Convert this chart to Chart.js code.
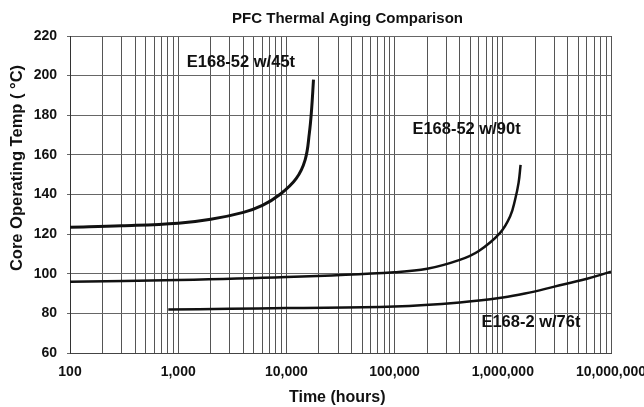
<!DOCTYPE html>
<html>
<head>
<meta charset="utf-8">
<script src="https://cdn.jsdelivr.net/npm/chart.js@4"></script>
<style>
  body { margin: 0; background: #fff; }
  canvas { display: block; }
</style>
</head>
<body>
<canvas id="chart" width="644" height="407"></canvas>
<script>
// 読み取り値: 横軸は時間(対数), 縦軸はコア温度
const hours45 = [100, 300, 1000, 2000, 4000, 6000, 8700, 12300, 14900, 16300, 17100, 17800];
const temp45  = [123.5, 124.2, 125.5, 127.5, 131, 134.5, 140, 148, 157.5, 171, 183, 198];

const hours90 = [100, 1000, 10000, 100000, 200000, 400000, 600000, 940000, 1170000, 1300000, 1400000, 1460000];
const temp90  = [96, 96.8, 98.3, 100.8, 102.5, 107, 111.5, 120.5, 129, 137.5, 146, 155];

const hours76 = [810, 3000, 10000, 100000, 400000, 1000000, 1600000, 3000000, 6000000, 10000000];
const temp76  = [82, 82.3, 82.7, 83.5, 85.5, 88, 90, 93.5, 97.5, 101];

const seriesNames = ['E168-52 w/45t', 'E168-52 w/90t', 'E168-2 w/76t'];
// ラベル位置 (データ座標)
const labelHours = [3800, 462000, 1820000];
const labelTemps = [206.5, 172.6, 75.2];

const decadeTicks = [100, 1000, 10000, 100000, 1000000, 10000000];
const xTickLabels = ['100', '1,000', '10,000', '100,000', '1,000,000', '10,000,000'];
const yTicks = [60, 80, 100, 120, 140, 160, 180, 200, 220];

const chartTitle = 'PFC Thermal Aging Comparison';
const xTitle = 'Time (hours)';
const yTitle = 'Core Operating Temp ( °C)';

// 1〜9 x 10^n のグリッド線
const gridHours = [];
for (let d = 100; d < 10000000; d *= 10) {
  for (let k = 1; k <= 9; k++) gridHours.push(k * d);
}
gridHours.push(10000000);

const toPoints = (xs, ys) => xs.map((x, i) => ({ x: x, y: ys[i] }));

const FONT = '"Liberation Sans", Arial, sans-serif';

// タイトル・軸タイトル・系列ラベルを描く
const textPlugin = {
  id: 'textPlugin',
  afterDatasetsDraw(chart) {
    const ctx = chart.ctx;
    const area = chart.chartArea;
    const xs = chart.scales.x;
    const ys = chart.scales.y;
    ctx.save();
    ctx.fillStyle = '#111';
    ctx.textAlign = 'center';
    ctx.textBaseline = 'middle';

    ctx.font = 'bold 15px ' + FONT;
    ctx.fillText(chartTitle, area.left + (area.right - area.left) * 0.513, 19);

    ctx.font = 'bold 16px ' + FONT;
    ctx.fillText(xTitle, area.left + (area.right - area.left) * 0.494, 398);

    ctx.save();
    ctx.translate(17, 168);
    ctx.rotate(-Math.PI / 2);
    ctx.font = 'bold 16.5px ' + FONT;
    ctx.fillText(yTitle, 0, 0);
    ctx.restore();

    ctx.font = 'bold 16.5px ' + FONT;
    seriesNames.forEach((name, i) => {
      ctx.fillText(name, xs.getPixelForValue(labelHours[i]), ys.getPixelForValue(labelTemps[i]));
    });
    ctx.restore();
  }
};

const lineStyle = {
  borderColor: '#111',
  pointRadius: 0,
  fill: false,
  tension: 0.4,
};

new Chart(document.getElementById('chart'), {
  type: 'line',
  data: {
    datasets: [
      { ...lineStyle, label: seriesNames[0], data: toPoints(hours45, temp45), borderWidth: 3 },
      { ...lineStyle, label: seriesNames[1], data: toPoints(hours90, temp90), borderWidth: 2.5 },
      { ...lineStyle, label: seriesNames[2], data: toPoints(hours76, temp76), borderWidth: 2.5 },
    ],
  },
  options: {
    responsive: false,
    animation: false,
    layout: { padding: { top: 36, right: 33, left: 0, bottom: 0 } },
    plugins: {
      legend: { display: false },
      title: { display: false },
      tooltip: { enabled: false },
    },
    scales: {
      x: {
        type: 'logarithmic',
        min: 100,
        max: 10000000,
        afterBuildTicks: (scale) => {
          scale.ticks = gridHours.map(v => ({ value: v }));
        },
        afterFit: (scale) => {
          scale.height = 54;
          scale.paddingLeft = 0;
          scale.paddingRight = 0;
        },
        grid: { color: '#555', lineWidth: 1, tickLength: 0 },
        border: { color: '#444' },
        ticks: {
          autoSkip: false,
          maxRotation: 0,
          padding: 11,
          color: '#111',
          font: { family: FONT, size: 14, weight: 'bold' },
          callback: (value) => {
            const i = decadeTicks.indexOf(value);
            return i >= 0 ? xTickLabels[i] : '';
          },
        },
      },
      y: {
        min: 60,
        max: 220,
        afterBuildTicks: (scale) => {
          scale.ticks = yTicks.map(v => ({ value: v }));
        },
        afterFit: (scale) => {
          scale.width = 70;
          scale.paddingTop = 0;
          scale.paddingBottom = 0;
        },
        grid: { color: '#666', lineWidth: 1, tickLength: 3 },
        border: { color: '#333' },
        ticks: {
          padding: 10,
          color: '#111',
          font: { family: FONT, size: 14, weight: 'bold' },
        },
      },
    },
  },
  plugins: [textPlugin],
});
</script>
</body>
</html>
